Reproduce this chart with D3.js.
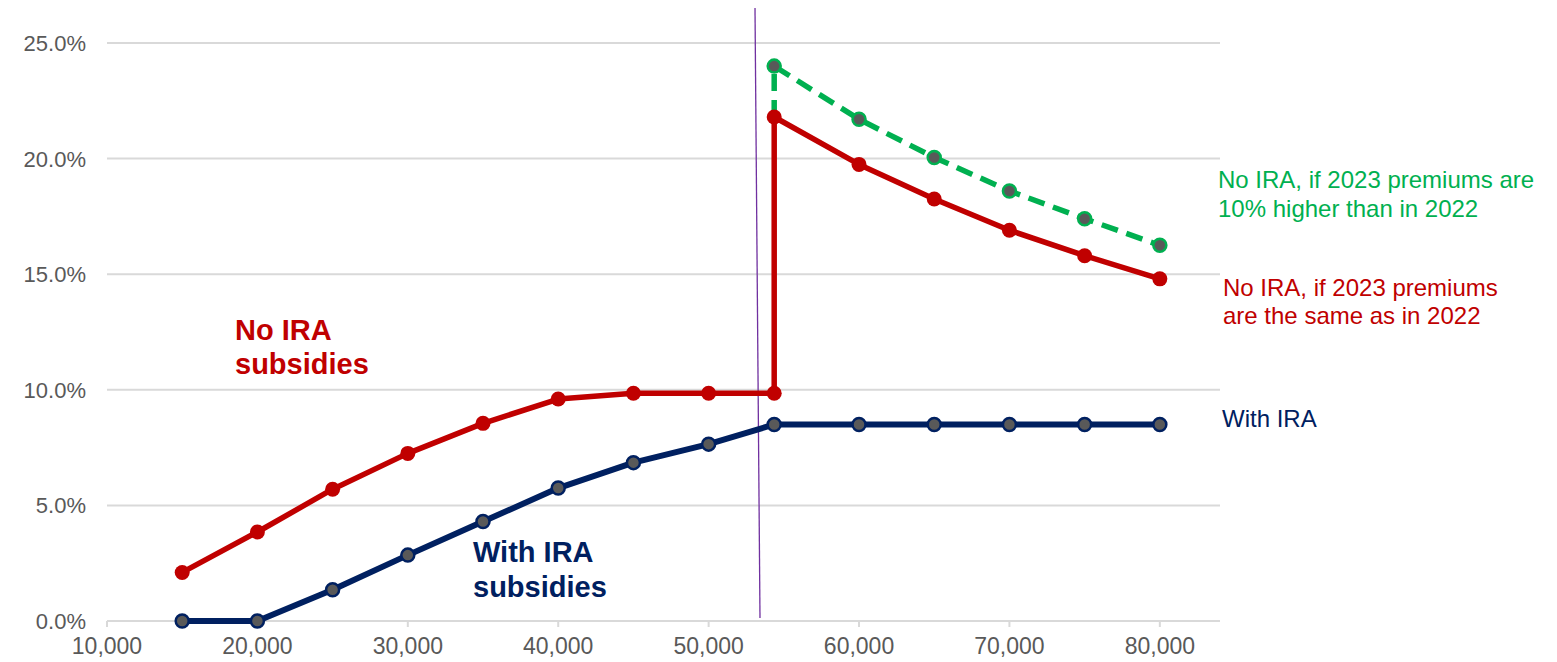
<!DOCTYPE html>
<html><head><meta charset="utf-8">
<script src="https://cdn.jsdelivr.net/npm/d3@7/dist/d3.min.js"></script>
<style>body{margin:0;background:#fff;} text{font-family:"Liberation Sans",Arial,sans-serif;}</style>
</head><body>
<svg id="c" width="1557" height="662"></svg>
<script>
const incomes = [15000,20000,25000,30000,35000,40000,45000,50000,54360,60000,65000,70000,75000,80000];
const withIRA = [0,0,1.35,2.85,4.3,5.75,6.85,7.65,8.5,8.5,8.5,8.5,8.5,8.5];
const noIRAbefore = [2.1,3.85,5.7,7.25,8.55,9.6,9.85,9.85,9.85];
const cliffIncome = 54360;
const noIRAafter = [21.8,19.75,18.25,16.9,15.8,14.8];
const noIRAhigher = [24.0,21.7,20.05,18.6,17.4,16.25];
const afterIncomes = [54360,60000,65000,70000,75000,80000];
const xTicks = [10000,20000,30000,40000,50000,60000,70000,80000];
const yTicks = [0,5,10,15,20,25];

const svg = d3.select("#c");
const x = d3.scaleLinear().domain([10000,84000]).range([107,1220]);
const y = d3.scaleLinear().domain([0,25]).range([621,43]);

// gridlines
svg.append("g").selectAll("line").data(yTicks).join("line")
  .attr("x1",x(10000)).attr("x2",x(84000))
  .attr("y1",d=>y(d)).attr("y2",d=>y(d))
  .attr("stroke","#d9d9d9").attr("stroke-width",2);
// x ticks
svg.append("g").selectAll("line").data(xTicks).join("line")
  .attr("x1",d=>x(d)).attr("x2",d=>x(d)).attr("y1",y(0)).attr("y2",y(0)+6)
  .attr("stroke","#d9d9d9").attr("stroke-width",2);
svg.append("g").selectAll("text").data(xTicks).join("text")
  .attr("x",d=>x(d)).attr("y",y(0)+33).attr("text-anchor","middle")
  .attr("font-size",23).attr("fill","#595959").text(d=>d3.format(",")(d));
svg.append("g").selectAll("text").data(yTicks).join("text")
  .attr("x",86).attr("y",d=>y(d)+8).attr("text-anchor","end")
  .attr("font-size",22).attr("fill","#595959").text(d=>d.toFixed(1)+"%");

// purple vertical line
svg.append("line").attr("x1",755).attr("y1",8).attr("x2",760).attr("y2",618)
  .attr("stroke","#7030A0").attr("stroke-width",1.3);

const line = d3.line().x(d=>x(d[0])).y(d=>y(d[1]));

// green dashed
const greenPts = [[cliffIncome,noIRAafter[0]]].concat(afterIncomes.map((v,i)=>[v,noIRAhigher[i]]));
svg.append("path").attr("d",line(greenPts)).attr("fill","none")
  .attr("stroke","#00B050").attr("stroke-width",5.5).attr("stroke-dasharray","17,9");

// red
const redPts = incomes.slice(0,9).map((v,i)=>[v,noIRAbefore[i]])
  .concat(afterIncomes.map((v,i)=>[v,noIRAafter[i]]));
svg.append("path").attr("d",line(redPts)).attr("fill","none")
  .attr("stroke","#C00000").attr("stroke-width",5.5).attr("stroke-linejoin","round");

// blue
const bluePts = incomes.map((v,i)=>[v,withIRA[i]]);
svg.append("path").attr("d",line(bluePts)).attr("fill","none")
  .attr("stroke","#002060").attr("stroke-width",6).attr("stroke-linejoin","round");

// markers
svg.append("g").selectAll("circle").data(afterIncomes.map((v,i)=>[v,noIRAhigher[i]])).join("circle")
  .attr("cx",d=>x(d[0])).attr("cy",d=>y(d[1])).attr("r",6.5)
  .attr("fill","#595959").attr("stroke","#00B050").attr("stroke-width",2.5);
svg.append("g").selectAll("circle").data(redPts).join("circle")
  .attr("cx",d=>x(d[0])).attr("cy",d=>y(d[1])).attr("r",7.5)
  .attr("fill","#C00000");
svg.append("g").selectAll("circle").data(bluePts).join("circle")
  .attr("cx",d=>x(d[0])).attr("cy",d=>y(d[1])).attr("r",6.5)
  .attr("fill","#595959").attr("stroke","#002060").attr("stroke-width",2.5);

// annotations
function multi(xp, yp, lines, color, size, weight, lh){
  const t = svg.append("text").attr("x",xp).attr("y",yp).attr("fill",color)
    .attr("font-size",size).attr("font-weight",weight);
  lines.forEach((s,i)=>t.append("tspan").attr("x",xp).attr("dy",i?lh:0).text(s));
}
multi(235,340,["No IRA","subsidies"],"#C00000",29,"bold",34);
multi(473,562,["With IRA","subsidies"],"#002060",29,"bold",35);
multi(1218,188,["No IRA, if 2023 premiums are","10% higher than in 2022"],"#00B050",24,"normal",29);
multi(1223,296,["No IRA, if 2023 premiums","are the same as in 2022"],"#C00000",24,"normal",28);
multi(1222,427,["With IRA"],"#002060",24,"normal",30);
</script>
</body></html>
